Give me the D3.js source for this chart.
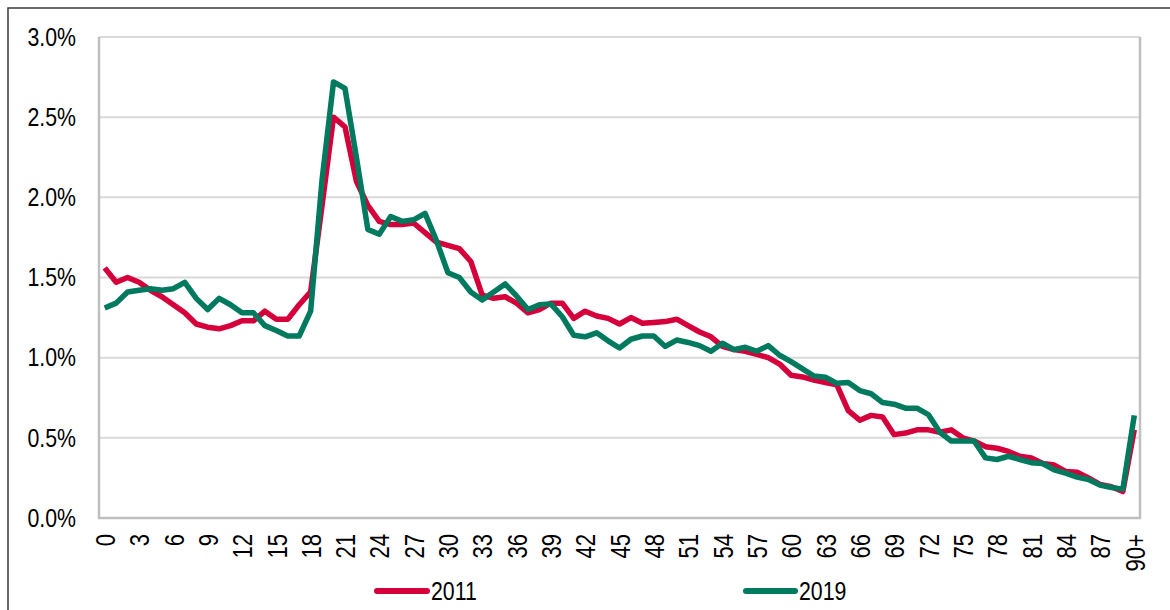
<!DOCTYPE html>
<html>
<head>
<meta charset="utf-8">
<script src="https://cdn.jsdelivr.net/npm/d3@7"></script>
<style>
  html, body { margin: 0; padding: 0; background: #fff; }
  svg { display: block; }
  text { font-family: "Liberation Sans", Arial, sans-serif; fill: #000; }
</style>
</head>
<body>
<svg id="chart" width="1170" height="610"></svg>
<script>
// ---- data ----
const categories = d3.range(90).map(String).concat(["90+"]);
const tickLabels = ["0","3","6","9","12","15","18","21","24","27","30","33","36","39","42","45","48","51","54","57","60","63","66","69","72","75","78","81","84","87","90+"];
const yTicks = [0, 0.5, 1.0, 1.5, 2.0, 2.5, 3.0];
const seriesNames = ["2011", "2019"];
const values2011 = [
  1.56, 1.47, 1.50, 1.47, 1.42, 1.38, 1.33, 1.28, 1.21, 1.19,
  1.18, 1.20, 1.23, 1.23, 1.29, 1.24, 1.24, 1.33, 1.41, 1.95,
  2.50, 2.44, 2.10, 1.95, 1.85, 1.83, 1.83, 1.84, 1.78, 1.72,
  1.70, 1.68, 1.60, 1.39, 1.37, 1.38, 1.34, 1.28, 1.30, 1.34,
  1.34, 1.245, 1.29, 1.26, 1.245, 1.21, 1.25, 1.215, 1.22, 1.225,
  1.24, 1.20, 1.16, 1.13, 1.07, 1.05, 1.04, 1.02, 1.00, 0.96,
  0.89, 0.88, 0.86, 0.845, 0.83, 0.67, 0.61, 0.64, 0.63, 0.52,
  0.53, 0.55, 0.55, 0.535, 0.55, 0.50, 0.48, 0.445, 0.435, 0.415,
  0.385, 0.375, 0.34, 0.33, 0.29, 0.285, 0.25, 0.21, 0.195, 0.165,
  0.55
];
const values2019 = [
  1.31, 1.34, 1.41, 1.42, 1.43, 1.42, 1.43, 1.47, 1.37, 1.30,
  1.37, 1.33, 1.28, 1.28, 1.20, 1.17, 1.135, 1.135, 1.29, 2.11,
  2.72, 2.68, 2.25, 1.80, 1.77, 1.88, 1.85, 1.86, 1.90, 1.73,
  1.53, 1.50, 1.41, 1.36, 1.41, 1.46, 1.385, 1.30, 1.33, 1.335,
  1.255, 1.14, 1.13, 1.155, 1.105, 1.06, 1.115, 1.135, 1.135, 1.07,
  1.11, 1.095, 1.075, 1.04, 1.09, 1.05, 1.065, 1.04, 1.075, 1.015,
  0.975, 0.93, 0.885, 0.878, 0.84, 0.845, 0.795, 0.775, 0.72, 0.71,
  0.685, 0.685, 0.645, 0.535, 0.48, 0.48, 0.48, 0.375, 0.365, 0.385,
  0.365, 0.345, 0.34, 0.30, 0.28, 0.255, 0.24, 0.205, 0.19, 0.18,
  0.64
];
const colors = ["#d5003b", "#007a5e"];

// ---- layout ----
const svg = d3.select("#chart");
const plot = { left: 99, right: 1140, top: 37, bottom: 518 };
const narrow = 0.82; // emulate a narrow sans face

// outer frame (left + top)
svg.append("path")
  .attr("d", "M8,612 L8,8 L1172,8")
  .attr("fill", "none").attr("stroke", "#3a3a3a").attr("stroke-width", 1.5);

const x = d3.scalePoint().domain(categories).range([plot.left, plot.right]).padding(0.5);
const y = d3.scaleLinear().domain([0, 3]).range([plot.bottom, plot.top]);

// gridlines
svg.append("g").selectAll("line").data(yTicks.filter(d => d > 0)).join("line")
  .attr("x1", plot.left).attr("x2", plot.right)
  .attr("y1", d => y(d)).attr("y2", d => y(d))
  .attr("stroke", "#d9d9d9").attr("stroke-width", 2);

// plot border (left, bottom, right)
svg.append("path")
  .attr("d", `M${plot.left},${plot.top} L${plot.left},${plot.bottom} L${plot.right},${plot.bottom} L${plot.right},${plot.top}`)
  .attr("fill", "none").attr("stroke", "#bfbfbf").attr("stroke-width", 2.5);

// y axis labels
const yAxis = d3.axisLeft(y).tickValues(yTicks).tickSize(0).tickPadding(0)
  .tickFormat(d => d3.format(".1f")(d) + "%");
const gy = svg.append("g").attr("transform", `translate(76,0)`).call(yAxis);
gy.select(".domain").remove();
gy.attr("font-family", null).attr("font-size", null);
gy.selectAll("text").attr("font-size", 26).attr("x", 0)
  .attr("transform", `scale(${narrow},1)`);

// x axis labels
const xAxis = d3.axisBottom(x).tickValues(tickLabels).tickSize(0).tickPadding(0);
const gx = svg.append("g").attr("transform", `translate(0,${plot.bottom})`).call(xAxis);
gx.select(".domain").remove();
gx.attr("font-family", null).attr("font-size", null);
gx.selectAll("text")
  .attr("font-size", 27)
  .attr("text-anchor", "end")
  .attr("transform", `rotate(-90) scale(${narrow},1)`)
  .attr("x", -16 / narrow).attr("y", 0).attr("dy", "0.36em");

// lines
const line = d3.line().x((d, i) => x(categories[i])).y(d => y(d));
[values2011, values2019].forEach((vals, k) => {
  svg.append("path").datum(vals)
    .attr("d", line)
    .attr("fill", "none")
    .attr("stroke", colors[k])
    .attr("stroke-width", 5.5)
    .attr("stroke-linejoin", "round")
    .attr("stroke-linecap", "butt");
});

// legend
const legendPos = [{ x1: 377, x2: 427 }, { x1: 746, x2: 795 }];
seriesNames.forEach((name, k) => {
  const g = svg.append("g");
  g.append("line")
    .attr("x1", legendPos[k].x1).attr("x2", legendPos[k].x2)
    .attr("y1", 591).attr("y2", 591)
    .attr("stroke", colors[k]).attr("stroke-width", 6).attr("stroke-linecap", "round");
  g.append("text")
    .attr("transform", `translate(${legendPos[k].x2 + 4},591) scale(${narrow},1)`)
    .attr("dy", "0.36em")
    .attr("font-size", 26)
    .text(name);
});
</script>
</body>
</html>
